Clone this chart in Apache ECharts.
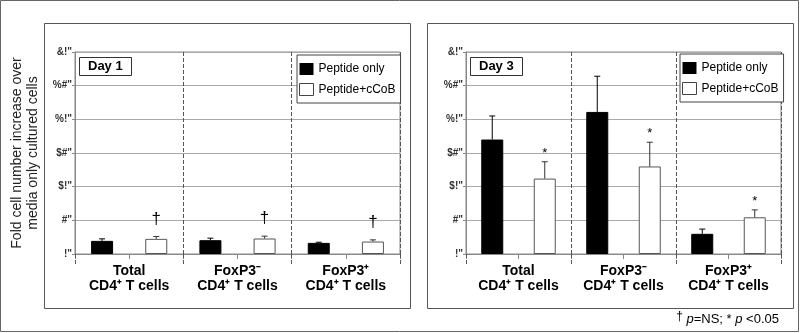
<!DOCTYPE html>
<html>
<head>
<meta charset="utf-8">
<script src="https://cdn.jsdelivr.net/npm/echarts@6/dist/echarts.min.js"></script>
<style>
  html, body { margin: 0; padding: 0; background: #fff; }
  #chart { width: 800px; height: 333px; }
</style>
</head>
<body>
<div id="chart"></div>
<script>
// 数据
var categories = ['Total\nCD4\u207A T cells', 'FoxP3\u207B\nCD4\u207A T cells', 'FoxP3\u207A\nCD4\u207A T cells'];
var slots = ['', '', '', '', '', ''];
var yTickLabels = ['!"', '#"', '$!"', '$#"', '%!"', '%#"', '&!"'];
var seriesNames = ['Peptide only', 'Peptide+cCoB'];

var day1PeptideOnly = [1.95, 2.05, 1.65];
var day1PeptideOnlyErr = [0.3, 0.3, 0.1];
var day1PeptideCcob = [2.25, 2.3, 1.85];
var day1PeptideCcobErr = [0.35, 0.35, 0.25];
var day1Marks = ['\u2020', '\u2020', '\u2020'];

var day3PeptideOnly = [17.0, 21.1, 3.0];
var day3PeptideOnlyErr = [3.5, 5.3, 0.7];
var day3PeptideCcob = [11.2, 13.0, 5.45];
var day3PeptideCcobErr = [2.5, 3.6, 1.1];
var day3Marks = ['*', '*', '*'];

var FONT = '"Liberation Sans", Arial, sans-serif';

// 柱子放在6个位置上：黑色在偶数位，白色在奇数位
function toSlots(values, offset) {
    var out = ['-', '-', '-', '-', '-', '-'];
    for (var i = 0; i < values.length; i++) {
        out[i * 2 + offset] = values[i];
    }
    return out;
}

function errData(values, errs, offset) {
    var out = [];
    for (var i = 0; i < values.length; i++) {
        out.push([i * 2 + offset, values[i], errs[i]]);
    }
    return out;
}

function errSeries(xIdx, yIdx, values, errs, offset, color, marks, markFont, markGap) {
    return {
        type: 'custom',
        xAxisIndex: xIdx,
        yAxisIndex: yIdx,
        silent: true,
        z: 5,
        data: errData(values, errs, offset),
        renderItem: function (params, api) {
            var x = api.value(0);
            var base = api.coord([x, api.value(1)]);
            var top = api.coord([x, api.value(1) + api.value(2)]);
            var children = [
                {type: 'line', shape: {x1: base[0], y1: base[1], x2: top[0], y2: top[1]},
                    style: {stroke: color, lineWidth: 1}},
                {type: 'line', shape: {x1: top[0] - 3, y1: top[1], x2: top[0] + 3, y2: top[1]},
                    style: {stroke: color, lineWidth: 1}}
            ];
            if (marks) {
                children.push({
                    type: 'text',
                    style: {
                        text: marks[params.dataIndex],
                        x: top[0], y: top[1] - markGap,
                        align: 'center', verticalAlign: 'bottom',
                        font: markFont, fill: '#000'
                    }
                });
            }
            return {type: 'group', children: children};
        }
    };
}

function panelAxes(gridIdx) {
    return [
        {
            type: 'category', gridIndex: gridIdx, data: slots, position: 'bottom',
            boundaryGap: true,
            axisLine: {lineStyle: {color: '#888', width: 1}},
            axisTick: {show: true, length: 5, lineStyle: {color: '#888'}},
            axisLabel: {show: false},
            splitLine: {show: false}
        },
        {
            type: 'category', gridIndex: gridIdx, data: categories, position: 'bottom',
            boundaryGap: true,
            axisLine: {show: false},
            axisTick: {show: true, length: 12, lineStyle: {color: '#555', type: 'dashed'}},
            axisLabel: {
                interval: 0, margin: 10, fontFamily: FONT, fontSize: 14,
                fontWeight: 'bold', color: '#000', lineHeight: 15
            },
            splitLine: {show: true, lineStyle: {color: '#555', type: 'dashed', width: 1}}
        }
    ];
}

function yAxisOf(gridIdx, withName) {
    return {
        type: 'value', gridIndex: gridIdx, min: 0, max: 30, interval: 5,
        name: withName ? 'Fold cell number increase over\nmedia only cultured cells' : '',
        nameLocation: 'middle', nameRotate: 90, nameGap: 34,
        nameTextStyle: {fontFamily: FONT, fontSize: 14, color: '#222', lineHeight: 16},
        axisLine: {show: true, lineStyle: {color: '#888'}},
        axisTick: {show: true, length: 3, lineStyle: {color: '#888'}},
        axisLabel: {
            margin: 3, fontFamily: FONT, fontSize: 10, fontWeight: 'bold', color: '#333',
            formatter: function (v) { return yTickLabels[Math.round(v / 5)]; }
        },
        splitLine: {lineStyle: {color: '#aaa', width: 1}}
    };
}

function legendOf(left, top) {
    return {
        left: left, top: top, orient: 'vertical',
        padding: [8, 5, 7, 2], itemGap: 8, itemWidth: 14, itemHeight: 12,
        borderColor: '#444', borderWidth: 1, backgroundColor: '#fff',
        selectedMode: false,
        textStyle: {fontFamily: FONT, fontSize: 12, color: '#000'},
        data: [
            {name: seriesNames[0], icon: 'rect', itemStyle: {color: '#000', borderWidth: 0}},
            {name: seriesNames[1], icon: 'rect', itemStyle: {color: '#fff', borderColor: '#444', borderWidth: 1}}
        ]
    };
}

function barSeries(xIdx, yIdx, name, values, offset, fill, border) {
    return {
        name: name, type: 'bar', xAxisIndex: xIdx, yAxisIndex: yIdx,
        data: toSlots(values, offset),
        barWidth: 22, barGap: '-100%',
        itemStyle: {color: fill, borderColor: border, borderWidth: 1},
        z: 3
    };
}

var dayBox = {
    fontFamily: FONT, fontSize: 13, fontWeight: 'bold', color: '#000'
};

var option = {
    backgroundColor: '#fff',
    animation: false,
    title: [
        {text: 'Day 1', left: 79, top: 57, padding: [3, 9, 3, 9], borderColor: '#333', borderWidth: 1,
            backgroundColor: '#fff', textStyle: dayBox},
        {text: 'Day 3', left: 470, top: 57, padding: [3, 9, 3, 9], borderColor: '#333', borderWidth: 1,
            backgroundColor: '#fff', textStyle: dayBox},
        {text: '{d|\u2020} {i|p}=NS; * {i|p} <0.05', right: 16, top: 306,
            textStyle: {
                fontFamily: FONT, fontSize: 13, fontWeight: 'normal', color: '#000',
                rich: {
                    d: {fontFamily: FONT, fontSize: 12, verticalAlign: 'top', color: '#000', padding: [0, 0, 4, 0]},
                    i: {fontFamily: FONT, fontSize: 13, fontStyle: 'italic', color: '#000'}
                }
            }}
    ],
    legend: [legendOf(297, 55), legendOf(680, 54)],
    graphic: [
        {type: 'rect', shape: {x: 0.5, y: 0.5, width: 798, height: 331}, style: {fill: 'none', stroke: '#666', lineWidth: 1}, z: -10},
        {type: 'rect', shape: {x: 44.5, y: 23.5, width: 366, height: 285}, style: {fill: 'none', stroke: '#555', lineWidth: 1}, z: -10},
        {type: 'rect', shape: {x: 427.5, y: 23.5, width: 366, height: 285}, style: {fill: 'none', stroke: '#555', lineWidth: 1}, z: -10}
    ],
    grid: [
        {left: 75, top: 52, width: 325, height: 202, show: true, borderColor: '#888', borderWidth: 1,
            outerBoundsMode: 'none'},
        {left: 466, top: 52, width: 315, height: 202, show: true, borderColor: '#888', borderWidth: 1,
            outerBoundsMode: 'none'}
    ],
    xAxis: panelAxes(0).concat(panelAxes(1)),
    yAxis: [yAxisOf(0, true), yAxisOf(1, false)],
    series: [
        barSeries(0, 0, seriesNames[0], day1PeptideOnly, 0, '#000', '#000'),
        barSeries(0, 0, seriesNames[1], day1PeptideCcob, 1, '#fff', '#555'),
        errSeries(0, 0, day1PeptideOnly, day1PeptideOnlyErr, 0, '#000', null),
        errSeries(0, 0, day1PeptideCcob, day1PeptideCcobErr, 1, '#333', day1Marks, '17px ' + FONT, 9),
        barSeries(2, 1, seriesNames[0], day3PeptideOnly, 0, '#000', '#000'),
        barSeries(2, 1, seriesNames[1], day3PeptideCcob, 1, '#fff', '#555'),
        errSeries(2, 1, day3PeptideOnly, day3PeptideOnlyErr, 0, '#000', null),
        errSeries(2, 1, day3PeptideCcob, day3PeptideCcobErr, 1, '#333', day3Marks, '13px ' + FONT, 2)
    ]
};

var dom_chart = echarts.init(document.getElementById('chart'));
dom_chart.setOption(option);
</script>
</body>
</html>
